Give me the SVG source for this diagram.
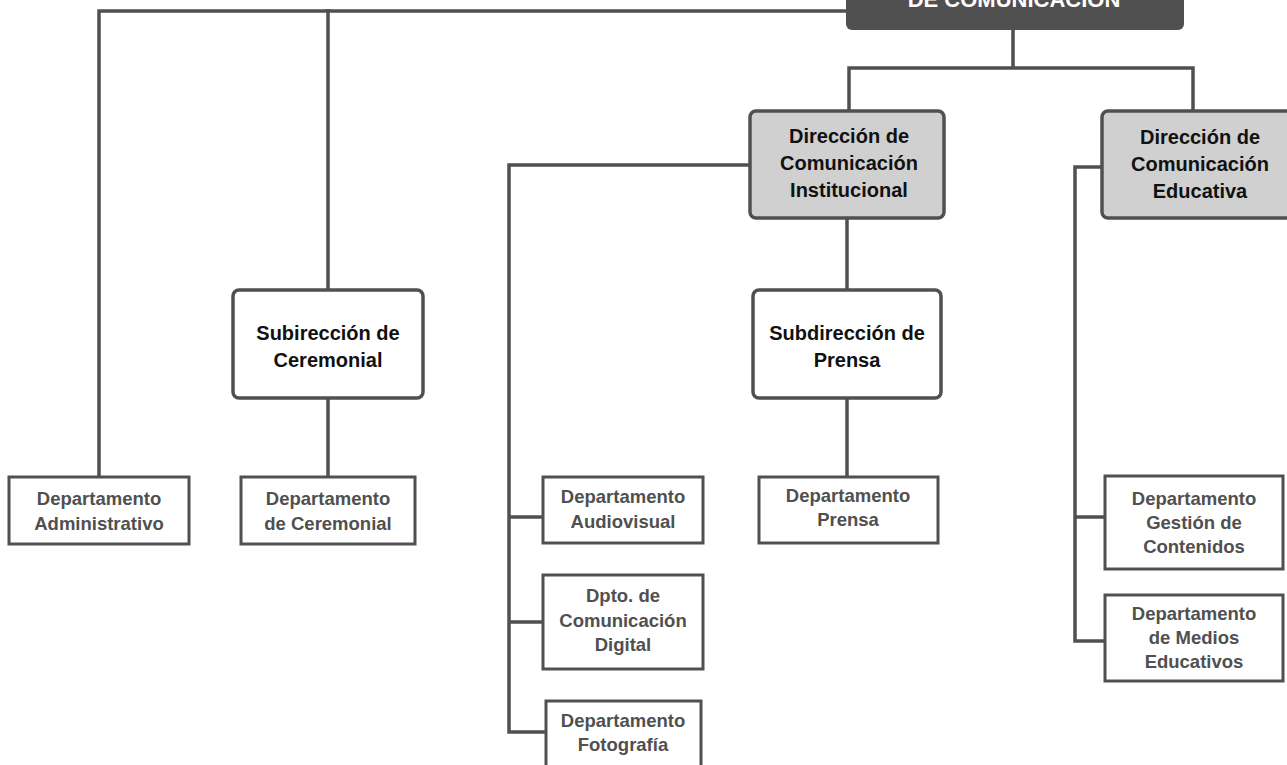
<svg xmlns="http://www.w3.org/2000/svg" width="1287" height="765" viewBox="0 0 1287 765">
<style>
.ln{fill:none;stroke:#505050;stroke-width:3.5;stroke-linejoin:miter}
.dir{fill:#d0d0d0;stroke:#505050;stroke-width:3.5}
.sub{fill:#fff;stroke:#505050;stroke-width:3.5}
.dep{fill:#fff;stroke:#505050;stroke-width:3}
text{font-family:"Liberation Sans",Arial,sans-serif;font-weight:bold;text-anchor:middle}
.th{font-size:20px;fill:#111}
.td{font-size:18.5px;fill:#505050}
.tt{font-size:22px;fill:#fff}
</style>
<rect width="1287" height="765" fill="#fff"/>
<g id="connectors">
<path class="ln" d="M846,11 H99 V478"/>
<path class="ln" d="M328,9 V290"/>
<path class="ln" d="M328,398 V476"/>
<path class="ln" d="M1013,30 V68 M849,111 V68 H1193 V111"/>
<path class="ln" d="M847,218 V290"/>
<path class="ln" d="M847,398 V476"/>
<path class="ln" d="M750,165 H509 V732 H546 M509,517 H543 M509,622 H543"/>
<path class="ln" d="M1102,167 H1075 V641 H1105 M1075,517 H1105"/>
</g>
<g id="top">
<rect x="846" y="-40" width="338" height="70" rx="6" fill="#505050"/>
<text class="tt" x="1014" y="7">DE COMUNICACIÓN</text>
</g>
<g id="dir-institucional">
<rect class="dir" x="750" y="111" width="194" height="107" rx="6"/>
<text class="th" x="849" y="143">Dirección de</text>
<text class="th" x="849" y="170">Comunicación</text>
<text class="th" x="849" y="197">Institucional</text>
</g>
<g id="dir-educativa">
<rect class="dir" x="1102" y="111" width="196" height="107" rx="6"/>
<text class="th" x="1200" y="144">Dirección de</text>
<text class="th" x="1200" y="171">Comunicación</text>
<text class="th" x="1200" y="198">Educativa</text>
</g>
<g id="sub-ceremonial">
<rect class="sub" x="233" y="290" width="190" height="108" rx="6"/>
<text class="th" x="328" y="340">Subirección de</text>
<text class="th" x="328" y="367">Ceremonial</text>
</g>
<g id="sub-prensa">
<rect class="sub" x="753" y="290" width="188" height="108" rx="6"/>
<text class="th" x="847" y="340">Subdirección de</text>
<text class="th" x="847" y="367">Prensa</text>
</g>
<g id="dep-administrativo">
<rect class="dep" x="9" y="477" width="180" height="67"/>
<text class="td" x="99" y="505">Departamento</text>
<text class="td" x="99" y="530">Administrativo</text>
</g>
<g id="dep-ceremonial">
<rect class="dep" x="241" y="477" width="174" height="67"/>
<text class="td" x="328" y="505">Departamento</text>
<text class="td" x="328" y="530">de Ceremonial</text>
</g>
<g id="dep-audiovisual">
<rect class="dep" x="543" y="477" width="160" height="66"/>
<text class="td" x="623" y="503">Departamento</text>
<text class="td" x="623" y="528">Audiovisual</text>
</g>
<g id="dep-prensa">
<rect class="dep" x="759" y="477" width="179" height="66"/>
<text class="td" x="848" y="502">Departamento</text>
<text class="td" x="848" y="526">Prensa</text>
</g>
<g id="dep-digital">
<rect class="dep" x="543" y="575" width="160" height="94"/>
<text class="td" x="623" y="602">Dpto. de</text>
<text class="td" x="623" y="627">Comunicación</text>
<text class="td" x="623" y="651">Digital</text>
</g>
<g id="dep-fotografia">
<rect class="dep" x="546" y="701" width="155" height="80"/>
<text class="td" x="623" y="727">Departamento</text>
<text class="td" x="623" y="751">Fotografía</text>
</g>
<g id="dep-contenidos">
<rect class="dep" x="1105" y="476" width="178" height="93"/>
<text class="td" x="1194" y="505">Departamento</text>
<text class="td" x="1194" y="529">Gestión de</text>
<text class="td" x="1194" y="553">Contenidos</text>
</g>
<g id="dep-medios">
<rect class="dep" x="1105" y="595" width="178" height="86"/>
<text class="td" x="1194" y="620">Departamento</text>
<text class="td" x="1194" y="644">de Medios</text>
<text class="td" x="1194" y="668">Educativos</text>
</g>
</svg>
